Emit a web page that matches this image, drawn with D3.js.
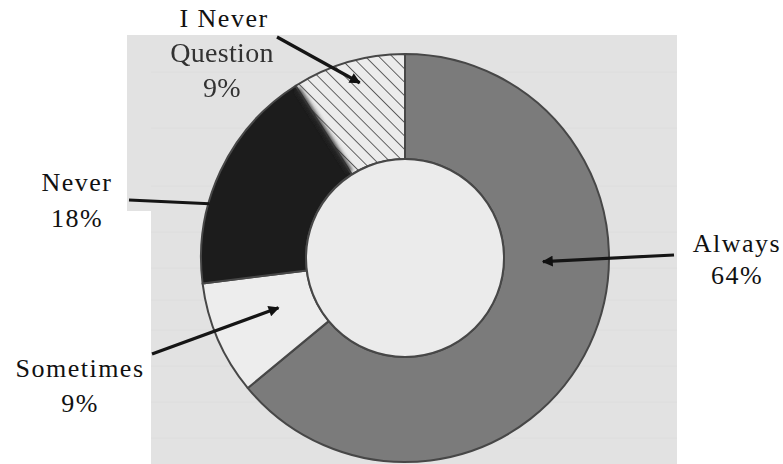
<!DOCTYPE html>
<html>
<head>
<meta charset="utf-8">
<script src="https://cdn.jsdelivr.net/npm/d3@7/dist/d3.min.js"></script>
<style>
  html, body { margin: 0; padding: 0; background: #fff; }
  svg { display: block; }
</style>
</head>
<body>
<svg id="chart" width="783" height="464"></svg>
<script>
// Responses, clockwise from 12 o'clock
const categories = ["Always", "Sometimes", "Never", "I Never Question"];
const values = [64, 9, 18, 9];
const labelLines = [["Always", "64%"], ["Sometimes", "9%"], ["Never", "18%"], ["I Never", "Question", "9%"]];

const W = 783, H = 464;
const cx = 405, cy = 258, rOuter = 204, rInner = 99;

const svg = d3.select("#chart");
const defs = svg.append("defs");

// diagonal hatching (top-left to bottom-right) for the last slice
const hatch = defs.append("pattern")
  .attr("id", "hatch").attr("patternUnits", "userSpaceOnUse")
  .attr("width", 9.5).attr("height", 9.5)
  .attr("patternTransform", "rotate(-45)");
hatch.append("rect").attr("width", 9.5).attr("height", 9.5).attr("fill", "#ececec");
hatch.append("line").attr("x1", 0).attr("y1", 0).attr("x2", 0).attr("y2", 9.5)
  .attr("stroke", "#4a4a4a").attr("stroke-width", 1.7);

defs.append("filter").attr("id", "soft").attr("x", "-50%").attr("y", "-50%").attr("width", "200%").attr("height", "200%")
  .append("feGaussianBlur").attr("stdDeviation", 2.2);
defs.append("filter").attr("id", "scan")
  .append("feGaussianBlur").attr("stdDeviation", 0.45);

defs.append("marker").attr("id", "head")
  .attr("viewBox", "0 0 10 10").attr("refX", 9).attr("refY", 5)
  .attr("markerWidth", 4.2).attr("markerHeight", 3.4).attr("orient", "auto")
  .attr("markerUnits", "strokeWidth")
  .append("path").attr("d", "M0,0 L10,5 L0,10 Z").attr("fill", "#111");

// paper panel behind the chart
const panel = svg.append("g");
panel.append("path")
  .attr("d", "M127,35 H677 V464 H151 V211 H127 Z")
  .attr("fill", "#e2e2e2");
const ruleY = [72, 128, 186, 232, 268, 300, 330, 366, 402, 438];
panel.selectAll("line.rule").data(ruleY).enter().append("line")
  .attr("x1", 151).attr("x2", 677).attr("y1", d => d).attr("y2", d => d)
  .attr("stroke", "#d2d2d2").attr("stroke-width", 1).attr("opacity", 0.35);

const fills = ["#7b7b7b", "#ededed", "#1c1c1c", "url(#hatch)"];

const pie = d3.pie().sort(null).value(d => d)(values);
const arc = d3.arc().innerRadius(rInner).outerRadius(rOuter);

const g = svg.append("g").attr("transform", `translate(${cx},${cy})`);

g.selectAll("path.slice").data(pie).enter().append("path")
  .attr("class", "slice")
  .attr("d", arc)
  .attr("fill", (d, i) => fills[i])
  .attr("stroke", "#474747")
  .attr("stroke-width", 2)
  .attr("stroke-linejoin", "round");

// soft smudge along the edge between the dark slice and the hatched slice
const edgeA = pie[3].startAngle;
g.append("line")
  .attr("x1", Math.sin(edgeA) * (rInner + 3)).attr("y1", -Math.cos(edgeA) * (rInner + 3))
  .attr("x2", Math.sin(edgeA) * (rOuter - 3)).attr("y2", -Math.cos(edgeA) * (rOuter - 3))
  .attr("stroke", "#2a2a2a").attr("stroke-width", 5).attr("filter", "url(#soft)");

// centre hole
g.append("circle").attr("r", rInner).attr("fill", "#ebebeb")
  .attr("stroke", "#474747").attr("stroke-width", 2);

// arrows: tail in page coords, tip at (angle in degrees clockwise from top, radius)
const arrowTail = [[674, 255], [152, 354], [129, 200], [277, 37]];
const arrowTip = [[91.5, 138], [248.5, 136], [285.5, 203], [345.5, 181]];
const arrowHead = [true, true, false, true];

arrowTail.forEach((t, i) => {
  const a = arrowTip[i][0] * Math.PI / 180, r = arrowTip[i][1];
  const x2 = cx + Math.sin(a) * r, y2 = cy - Math.cos(a) * r;
  svg.append("line")
    .attr("x1", t[0]).attr("y1", t[1]).attr("x2", x2).attr("y2", y2)
    .attr("stroke", "#151515").attr("stroke-width", 3.2)
    .attr("marker-end", arrowHead[i] ? "url(#head)" : null);
});

// labels
const serif = "'Liberation Serif', 'Times New Roman', serif";
function label(lines, x, ys, opts = {}) {
  const t = svg.append("text")
    .attr("text-anchor", "middle")
    .attr("font-family", serif)
    .attr("font-size", opts.size || 26)
    .attr("letter-spacing", opts.spacing != null ? opts.spacing : 1.5)
    .attr("fill", opts.color || "#111");
  if (opts.filter) t.attr("filter", opts.filter);
  lines.forEach((s, k) => t.append("tspan").attr("x", x).attr("y", ys[k]).text(s));
}

label(labelLines[0], 737, [252, 284]);
label(labelLines[1], 80, [377, 412]);
label(labelLines[2], 77, [191, 227]);
label([labelLines[3][0]], 224, [27]);
label(labelLines[3].slice(1), 222, [62, 97], { size: 28, spacing: 0.3, color: "#333", filter: "url(#scan)" });
</script>
</body>
</html>
